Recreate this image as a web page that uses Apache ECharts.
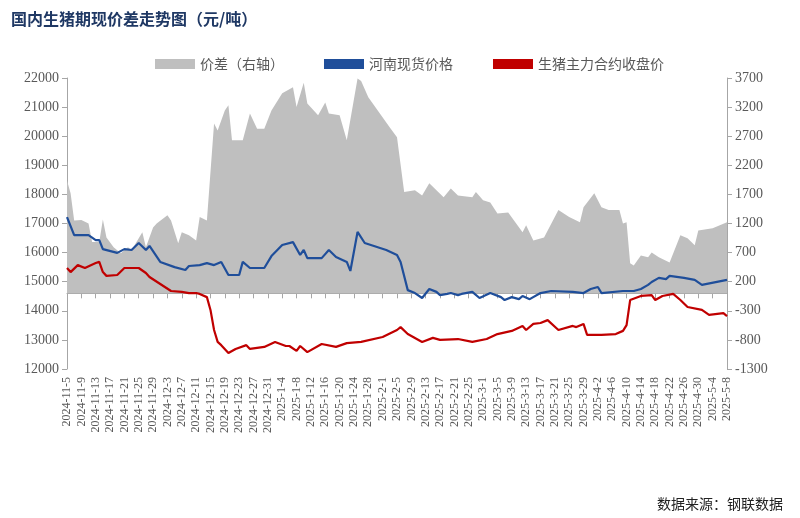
<!DOCTYPE html>
<html>
<head>
<meta charset="utf-8">
<script src="https://cdn.jsdelivr.net/npm/echarts@6/dist/echarts.min.js"></script>
<style>
  html, body { margin: 0; padding: 0; background: #fff; }
  #main { width: 800px; height: 518px; }
</style>
</head>
<body>
<div id="main"></div>
<script>
// 日期：2024-11-5 至 2025-5-8 按日
var startDate = new Date(2024, 10, 5);
var dayCount = 185;
var categories = [];
for (var i = 0; i < dayCount; i++) {
  var d = new Date(startDate.getTime() + i * 86400000);
  categories.push(d.getFullYear() + '-' + (d.getMonth() + 1) + '-' + d.getDate());
}

// 价差（右轴）：[日序号, 值]
var spreadDays = [0,1,2,4,6,7,9,10,11,13,15,17,18,21,22,24,25,28,29,31,32,34,36,37,39,41,42,44,45,46,49,51,53,55,57,60,63,64,66,67,70,72,73,76,78,81,82,84,90,92,94,97,99,101,105,107,109,113,114,116,118,120,123,127,128,130,133,137,140,143,144,147,149,151,154,155,156,157,158,160,162,163,165,168,171,173,175,176,180,184];
var spreadVals = [1940,1720,1250,1260,1200,880,880,1270,960,790,690,790,740,1050,790,1130,1200,1340,1250,860,1050,1000,910,1310,1250,2920,2800,3140,3230,2630,2630,3090,2830,2830,3140,3440,3540,3200,3620,3260,3060,3280,3090,3060,2630,3690,3650,3370,2850,2680,1740,1770,1680,1890,1650,1800,1680,1650,1740,1600,1560,1370,1390,1050,1170,910,960,1430,1310,1220,1480,1720,1480,1430,1430,1200,1220,515,480,650,620,700,620,530,1000,945,825,1080,1120,1220];

// 河南现货价格
var spotDays = [0,2,6,8,9,10,14,16,18,20,22,23,26,30,33,34,37,39,41,43,45,48,49,51,55,57,60,63,65,66,67,71,73,75,78,79,81,83,89,92,93,95,97,99,101,103,104,106,107,109,110,113,115,118,121,122,124,126,127,129,132,135,141,144,146,148,149,155,158,160,162,163,165,167,168,172,175,177,184];
var spotVals = [17220,16600,16600,16430,16430,16120,15990,16120,16090,16330,16090,16230,15680,15500,15400,15540,15570,15640,15570,15680,15230,15230,15680,15470,15470,15880,16260,16360,15920,16090,15810,15810,16090,15850,15680,15370,16710,16330,16090,15920,15680,14710,14610,14440,14750,14650,14540,14580,14610,14540,14580,14650,14440,14610,14470,14370,14470,14400,14510,14400,14610,14680,14650,14610,14750,14820,14610,14680,14680,14750,14890,14990,15130,15090,15200,15130,15060,14890,15060];

// 生猪主力合约收盘价
var futDays = [0,1,3,5,8,9,10,11,14,16,20,22,23,26,29,32,34,36,37,39,40,41,42,43,45,47,50,51,55,58,61,62,64,65,67,71,75,78,82,88,92,93,95,99,102,104,109,113,117,120,124,127,128,130,132,134,137,141,142,144,145,149,153,155,156,157,160,163,164,166,169,171,173,177,179,183,184];
var futVals = [15470,15330,15570,15470,15640,15680,15330,15200,15230,15470,15470,15300,15160,14920,14680,14650,14610,14610,14580,14470,14030,13340,12930,12820,12550,12690,12820,12690,12760,12930,12790,12790,12620,12790,12580,12860,12760,12890,12930,13100,13340,13440,13200,12930,13070,13000,13030,12930,13030,13200,13310,13480,13340,13550,13580,13680,13340,13480,13440,13550,13170,13170,13200,13310,13510,14370,14510,14540,14370,14510,14580,14370,14130,14030,13860,13920,13820];

function pairs(days, vals) {
  return days.map(function (d, i) { return [d, vals[i]]; });
}

var myChart = echarts.init(document.getElementById('main'));
var fontFam = '"Noto Sans CJK SC", "Noto Sans", sans-serif';
var numFam = '"Liberation Serif", "DejaVu Serif", serif';
var option = {
  backgroundColor: '#fff',
  textStyle: { fontFamily: fontFam },
  title: [{
    text: '国内生猪期现价差走势图（元/吨）',
    left: 6, top: 6,
    textStyle: { fontSize: 16, fontWeight: 'bold', color: '#1f3864', fontFamily: fontFam }
  }, {
    text: '数据来源：钢联数据',
    right: 12, top: 492,
    textStyle: { fontSize: 14, fontWeight: 'normal', color: '#222', fontFamily: fontFam }
  }],
  legend: {
    top: 52, left: 150,
    itemWidth: 40, itemHeight: 10, itemGap: 40,
    textStyle: { fontSize: 14, color: '#595959' },
    data: [
      { name: '价差（右轴）', icon: 'rect' },
      { name: '河南现货价格', icon: 'rect', itemStyle: { color: '#1f4e9a' } },
      { name: '生猪主力合约收盘价', icon: 'rect', itemStyle: { color: '#c00000' } }
    ]
  },
  grid: { left: 67, right: 73, top: 78, bottom: 149 },
  xAxis: {
    type: 'category',
    data: categories,
    boundaryGap: false,
    axisLine: { lineStyle: { color: '#a6a6a6' } },
    axisTick: { interval: 3, lineStyle: { color: '#a6a6a6' } },
    axisLabel: { interval: 3, rotate: 90, fontSize: 12, color: '#595959', fontFamily: numFam }
  },
  yAxis: [{
    type: 'value', min: 12000, max: 22000, interval: 1000,
    axisLine: { show: true, lineStyle: { color: '#a6a6a6' } },
    axisTick: { show: true, lineStyle: { color: '#a6a6a6' } },
    splitLine: { show: false },
    axisLabel: { fontSize: 14, color: '#595959', fontFamily: numFam, formatter: function (v) { return String(v); } }
  }, {
    type: 'value', min: -1300, max: 3700, interval: 500,
    axisLine: { show: true, lineStyle: { color: '#a6a6a6' } },
    axisTick: { show: true, lineStyle: { color: '#a6a6a6' } },
    splitLine: { show: false },
    axisLabel: { fontSize: 14, color: '#595959', fontFamily: numFam, formatter: function (v) { return String(v); } }
  }],
  series: [{
    name: '价差（右轴）',
    type: 'line',
    yAxisIndex: 1,
    data: pairs(spreadDays, spreadVals),
    symbol: 'none',
    lineStyle: { width: 0 },
    itemStyle: { color: '#bfbfbf' },
    areaStyle: { color: '#bfbfbf', opacity: 1, origin: 0 },
    z: 1
  }, {
    name: '河南现货价格',
    type: 'line',
    data: pairs(spotDays, spotVals),
    symbol: 'none',
    lineStyle: { width: 2.2, color: '#1f4e9a' },
    itemStyle: { color: '#1f4e9a' },
    z: 3
  }, {
    name: '生猪主力合约收盘价',
    type: 'line',
    data: pairs(futDays, futVals),
    symbol: 'none',
    lineStyle: { width: 2.2, color: '#c00000' },
    itemStyle: { color: '#c00000' },
    z: 3
  }]
};
myChart.setOption(option);
</script>
</body>
</html>
